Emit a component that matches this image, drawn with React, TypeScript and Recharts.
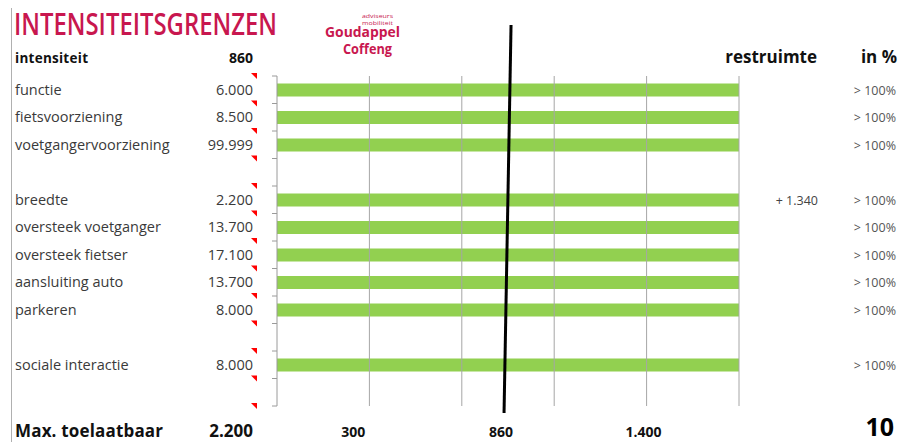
import React from 'react';
import { BarChart, Bar, XAxis, YAxis, ReferenceLine } from 'recharts';

const rowKeys = ['functie', 'fietsvoorziening', 'voetgangervoorziening', 'leeg1', 'breedte', 'oversteek voetganger', 'oversteek fietser', 'aansluiting auto', 'parkeren', 'leeg2', 'sociale interactie', 'leeg3'];
const rowLabels = ['functie', 'fietsvoorziening', 'voetgangervoorziening', '', 'breedte', 'oversteek voetganger', 'oversteek fietser', 'aansluiting auto', 'parkeren', '', 'sociale interactie', ''];
const intensiteitLimits = ['6.000', '8.500', '99.999', '', '2.200', '13.700', '17.100', '13.700', '8.000', '', '8.000', ''];
const barValues = [1750, 1750, 1750, null, 1750, 1750, 1750, 1750, 1750, null, 1750, null];
const restruimte = ['', '', '', '', '+ 1.340', '', '', '', '', '', '', ''];
const percentages = ['> 100%', '> 100%', '> 100%', '', '> 100%', '> 100%', '> 100%', '> 100%', '> 100%', '', '> 100%', ''];
const xTicks = [300, 860, 1400];
const xTickLabels = ['300', '860', '1.400'];
const gridValues = [350, 700, 1050, 1400, 1750];
const currentIntensity = 860;
const currentIntensityLabel = '860';
const maxAllowedLabel = '2.200';
const scoreLabel = '10';

const data = rowKeys.map((k, i) => ({ key: k, value: barValues[i] }));

const FONT = "'Open Sans', 'Noto Sans', sans-serif";
const ROW_H = 27.5;
const CRIMSON = '#c8174f';

const RowTick = (props: any) => {
  const { y, payload } = props;
  const i = rowKeys.indexOf(payload.value);
  const top = y - ROW_H / 2;
  const bottom = y + ROW_H / 2;
  const last = i === rowKeys.length - 1;
  return (
    <g fontFamily={FONT}>
      <text x={15} y={y + 5} fontSize={14.5} fill="#3a3a3a">{rowLabels[i]}</text>
      <text x={253} y={y + 5} fontSize={14.5} fill="#3a3a3a" textAnchor="end">{intensiteitLimits[i]}</text>
      <polygon points={`251,${top - 3} 257,${top - 3} 257,${top + 3}`} fill="#ff0000" />
      <line x1={272} x2={277} y1={top} y2={top} stroke="#9a9a9a" />
      {last && <line x1={272} x2={277} y1={bottom} y2={bottom} stroke="#9a9a9a" />}
      {last && <polygon points={`251,${bottom - 3} 257,${bottom - 3} 257,${bottom + 3}`} fill="#ff0000" />}
      <text x={818} y={y + 5} fontSize={12.5} fill="#444" textAnchor="end">{restruimte[i]}</text>
      <text x={896} y={y + 5} fontSize={12.5} fill="#555" textAnchor="end">{percentages[i]}</text>
    </g>
  );
};

const XTick = (props: any) => {
  const { x, payload } = props;
  const i = xTicks.indexOf(payload.value);
  return (
    <text x={x - 3} y={437} fontSize={14} fontWeight="bold" fill="#111" textAnchor="middle" fontFamily={FONT}>
      {xTickLabels[i]}
    </text>
  );
};

const SlantLine = (p: any) => {
  const yTop = Math.min(p.y1, p.y2);
  const yBot = Math.max(p.y1, p.y2);
  const xb = p.x1;
  return <line x1={xb + 7} y1={yTop - 51} x2={xb} y2={yBot + 7} stroke="#000" strokeWidth={3} />;
};

export default function App() {
  return (
    <div style={{ position: 'absolute', left: 0, top: 0, width: 900, height: 442, background: '#fff', overflow: 'hidden' }}>
      <div style={{ position: 'absolute', left: 11, top: 8, width: 1, height: 434, background: '#b0b0b0' }} />
      <svg width={900} height={442} style={{ position: 'absolute', left: 0, top: 0 }} fontFamily={FONT}>
        <text x={14} y={35} fontSize={31} fontWeight={600} fill={CRIMSON} textLength={263} lengthAdjust="spacingAndGlyphs">INTENSITEITSGRENZEN</text>
        <text x={393} y={18} fontSize={5} fill={CRIMSON} textAnchor="end" textLength={31} lengthAdjust="spacingAndGlyphs">adviseurs</text>
        <text x={393} y={24.5} fontSize={5} fill={CRIMSON} textAnchor="end" textLength={31} lengthAdjust="spacingAndGlyphs">mobiliteit</text>
        <text x={325} y={37} fontSize={13.5} fontWeight="bold" fill={CRIMSON} textLength={75} lengthAdjust="spacingAndGlyphs">Goudappel</text>
        <text x={343} y={54} fontSize={13.5} fontWeight="bold" fill={CRIMSON} textLength={49} lengthAdjust="spacingAndGlyphs">Coffeng</text>
        <text x={15} y={63} fontSize={13.5} fontWeight="bold" fill="#111" textLength={73} lengthAdjust="spacing">intensiteit</text>
        <text x={253} y={63} fontSize={14} fontWeight="bold" fill="#111" textAnchor="end">{currentIntensityLabel}</text>
        <text x={817} y={63} fontSize={17} fontWeight="bold" fill="#111" textAnchor="end">restruimte</text>
        <text x={897} y={63} fontSize={17} fontWeight="bold" fill="#111" textAnchor="end">in %</text>
        <text x={15} y={437} fontSize={17} fontWeight="bold" fill="#111" textLength={148} lengthAdjust="spacing">Max. toelaatbaar</text>
        <text x={253} y={437} fontSize={17} fontWeight="bold" fill="#111" textAnchor="end">{maxAllowedLabel}</text>
        <text x={894} y={436} fontSize={25} fontWeight="bold" fill="#000" textAnchor="end">{scoreLabel}</text>
      </svg>
      <div style={{ position: 'absolute', left: 0, top: 0 }}>
        <BarChart width={900} height={442} data={data} layout="vertical" margin={{ top: 76, right: 161, bottom: 0, left: 0 }} barCategoryGap={7.5}>
          <XAxis type="number" domain={[0, 1750]} ticks={xTicks} axisLine={false} tickLine={false} tick={<XTick />} height={36} allowDataOverflow />
          <YAxis type="category" dataKey="key" width={277} interval={0} tickLine={false} axisLine={{ stroke: '#9a9a9a' }} tick={<RowTick />} />
          {gridValues.map((v) => (
            <ReferenceLine key={v} x={v} stroke="#a6a6a6" />
          ))}
          <Bar dataKey="value" fill="#92d050" isAnimationActive={false} />
          <ReferenceLine x={currentIntensity} stroke="#000" strokeWidth={3} shape={SlantLine} />
        </BarChart>
      </div>
    </div>
  );
}
